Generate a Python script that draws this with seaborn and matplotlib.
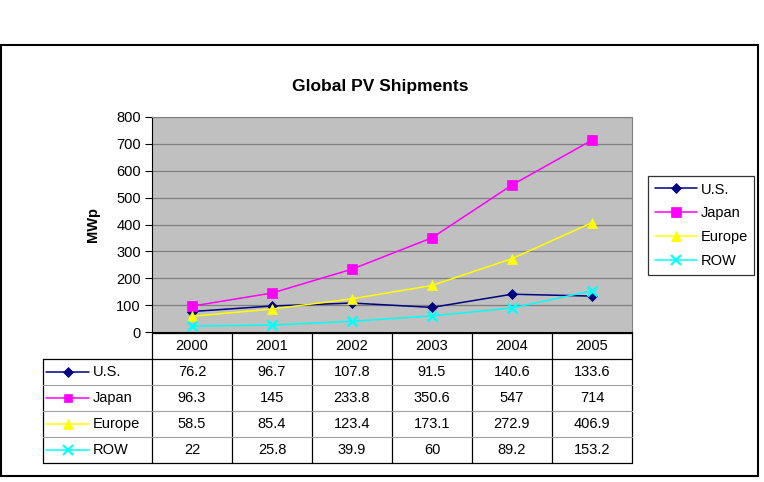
import pandas as pd
import numpy as np
import matplotlib.pyplot as plt
import seaborn as sns
from matplotlib.patches import Rectangle
from matplotlib.lines import Line2D

years = ["2000", "2001", "2002", "2003", "2004", "2005"]
series = ["U.S.", "Japan", "Europe", "ROW"]
us = [76.2, 96.7, 107.8, 91.5, 140.6, 133.6]
japan = [96.3, 145, 233.8, 350.6, 547, 714]
europe = [58.5, 85.4, 123.4, 173.1, 272.9, 406.9]
row = [22, 25.8, 39.9, 60, 89.2, 153.2]
yticks = [0, 100, 200, 300, 400, 500, 600, 700, 800]

colors = {"U.S.": "#000080", "Japan": "#FF00FF", "Europe": "#FFFF00", "ROW": "#00FFFF"}
marks = {"U.S.": "D", "Japan": "s", "Europe": "^", "ROW": "x"}
msize = {"U.S.": 5.5, "Japan": 6.5, "Europe": 7.5, "ROW": 7.5}

vals = {"U.S.": us, "Japan": japan, "Europe": europe, "ROW": row}
df = pd.DataFrame([(i, s, v) for s in series for i, v in enumerate(vals[s])],
                  columns=["x", "region", "MWp"])

sns.set_style("white")
plt.rcParams["font.family"] = ["Liberation Sans", "DejaVu Sans"]
plt.rcParams["text.color"] = "black"
plt.rcParams["axes.labelcolor"] = "black"
plt.rcParams["ytick.color"] = "black"

W, H = 764, 482
FS = 10.5
fig = plt.figure(figsize=(7.64, 4.82), dpi=100)

def fx(px):
    return px / W

def fy(py):
    return 1 - py / H

# outer frame
fig.patches.append(Rectangle((fx(1), fy(476)), fx(758) - fx(1), fy(45) - fy(476),
                             transform=fig.transFigure, fill=False,
                             edgecolor="black", linewidth=1.5))

ax = fig.add_axes([fx(152), fy(332), fx(632) - fx(152), fy(117) - fy(332)])
ax.set_facecolor("#C0C0C0")
for y in yticks[1:]:
    ax.axhline(y, color="#808080", linewidth=0.9, zorder=0)

for s in series:
    d = df[df.region == s]
    sns.lineplot(data=d, x="x", y="MWp", ax=ax, color=colors[s], marker=marks[s],
                 markersize=msize[s], markeredgecolor=colors[s],
                 markeredgewidth=1.8 if s == "ROW" else 0.5,
                 linewidth=1.1, label=s, legend=False)

ax.set_xlim(-0.5, len(years) - 0.5)
ax.set_ylim(0, 800)
ax.set_yticks(yticks)
ax.set_yticklabels([str(t) for t in yticks], fontsize=FS)
ax.set_xticks([])
ax.set_xlabel("")
ax.set_ylabel("MWp", fontsize=10.5, fontweight="bold", labelpad=12)
ax.tick_params(axis="y", length=5, width=0.8, color="black", labelcolor="black",
               left=True, pad=3)
for side in ["top", "right"]:
    ax.spines[side].set_color("#808080")
ax.spines["left"].set_color("black")
ax.spines["bottom"].set_color("black")

fig.text(fx(380), fy(86), "Global PV Shipments", ha="center", va="center",
         fontsize=12.5, fontweight="bold", color="black")

# legend
handles = [Line2D([0], [0], color=colors[s], marker=marks[s], markersize=msize[s],
                  markeredgecolor=colors[s], markeredgewidth=1.5 if s == "ROW" else 0.5,
                  linewidth=1.1) for s in series]
leg = fig.legend(handles, series, loc="upper left",
                 bbox_to_anchor=(fx(648), fy(176)), frameon=True, fancybox=False,
                 fontsize=FS, handlelength=2.9, handletextpad=0.25,
                 borderpad=0.45, borderaxespad=0, labelspacing=0.68)
leg.get_frame().set_edgecolor("black")
leg.get_frame().set_linewidth(0.9)
for t in leg.get_texts():
    t.set_color("black")

# data table below the plot
tx0, tx1 = 43, 632
tab = fig.add_axes([fx(tx0), fy(463), fx(tx1) - fx(tx0), fy(333) - fy(463)])
tab.set_axis_off()
lead = 109 / 80.0
tab.set_xlim(-0.5 - lead, len(years) - 0.5)
tab.set_ylim(len(series) + 1, 0)

nrow = len(series) + 1
# vertical lines
for k in range(len(years) + 1):
    tab.plot([k - 0.5, k - 0.5], [0, nrow], color="black", linewidth=0.9, clip_on=False)
tab.plot([-0.5 - lead] * 2, [1, nrow], color="black", linewidth=0.9, clip_on=False)
# horizontal lines
tab.plot([-0.5, len(years) - 0.5], [0, 0], color="black", linewidth=0.9, clip_on=False)
tab.plot([-0.5 - lead, len(years) - 0.5], [1, 1], color="black", linewidth=0.9, clip_on=False)
for r in range(2, nrow):
    tab.plot([-0.5 - lead, len(years) - 0.5], [r, r], color="#A0A0A0", linewidth=0.8,
             clip_on=False)
tab.plot([-0.5 - lead, len(years) - 0.5], [nrow, nrow], color="black", linewidth=0.9,
         clip_on=False)

for i, yr in enumerate(years):
    tab.text(i, 0.5, yr, ha="center", va="center", fontsize=FS, color="black")
for r, s in enumerate(series, start=1):
    for i, v in enumerate(vals[s]):
        tab.text(i, r + 0.5, f"{v:g}", ha="center", va="center", fontsize=FS,
                 color="black")
    lx0 = -0.5 - lead + 3 / 80
    lx1 = -0.5 - lead + 46 / 80
    tab.plot([lx0, lx1], [r + 0.5, r + 0.5], color=colors[s], linewidth=1.1, clip_on=False)
    tab.plot([(lx0 + lx1) / 2], [r + 0.5], marker=marks[s], color=colors[s],
             markersize=msize[s] - 0.5, markeredgecolor=colors[s],
             markeredgewidth=1.5 if s == "ROW" else 0.5, clip_on=False)
    tab.text(-0.5 - lead + 50 / 80, r + 0.5, s, ha="left", va="center", fontsize=FS,
             color="black")

fig.savefig("out.png", dpi=100)
